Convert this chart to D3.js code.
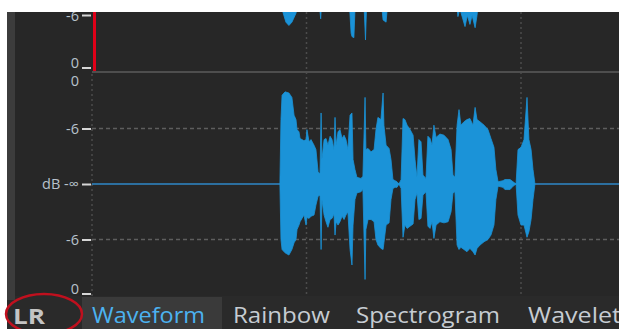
<!DOCTYPE html>
<html>
<head>
<meta charset="utf-8">
<script src="https://cdn.jsdelivr.net/npm/d3@7"></script>
<style>
  html, body { margin: 0; padding: 0; background: #fff; }
  svg { display: block; }
</style>
</head>
<body>
<svg id="chart" width="619" height="329"></svg>
<script>
// ---- data (time in s, amplitude -1..1) ----
const waveT = [0.876, 0.881, 0.886, 0.900, 0.918, 0.932, 0.942, 0.951, 0.956, 0.965, 0.970, 0.979, 0.988, 0.998, 1.002, 1.012, 1.021, 1.035, 1.044, 1.054, 1.063, 1.068, 1.072, 1.082, 1.091, 1.100, 1.110, 1.119, 1.128, 1.133, 1.138, 1.147, 1.156, 1.166, 1.175, 1.184, 1.193, 1.203, 1.212, 1.217, 1.226, 1.235, 1.254, 1.263, 1.273, 1.277, 1.287, 1.301, 1.315, 1.324, 1.333, 1.347, 1.357, 1.361, 1.371, 1.385, 1.394, 1.403, 1.413, 1.422, 1.431, 1.441, 1.450, 1.459, 1.469, 1.483, 1.497, 1.506, 1.515, 1.524, 1.534, 1.543, 1.557, 1.566, 1.576, 1.585, 1.594, 1.604, 1.622, 1.641, 1.660, 1.674, 1.683, 1.692, 1.702, 1.711, 1.720, 1.734, 1.748, 1.762, 1.776, 1.786, 1.795, 1.809, 1.828, 1.846, 1.860, 1.874, 1.883, 1.893, 1.916, 1.925, 1.949, 1.963, 1.977, 1.986, 2.000, 2.014, 2.028, 2.037, 2.047, 2.056, 2.065];
const waveMax = [0, 0.58, 0.80, 0.83, 0.82, 0.78, 0.62, 0.58, 0.49, 0.47, 0.41, 0.40, 0.39, 0.40, 0.49, 0.38, 0.40, 0.35, 0.31, 0.11, 0.09, 0.64, 0.22, 0.40, 0.41, 0.35, 0.43, 0.40, 0.31, 0.60, 0.35, 0.47, 0.49, 0.41, 0.44, 0.40, 0.31, 0.62, 0.64, 0.22, 0.13, 0.06, 0.05, 0.07, 0.78, 0.31, 0.32, 0.29, 0.31, 0.49, 0.60, 0.58, 0.82, 0.53, 0.35, 0.32, 0.22, 0.04, 0.03, 0.02, 0, 0.04, 0.59, 0.58, 0.53, 0.49, 0.44, 0.22, 0.06, 0.40, 0.38, 0.08, 0.05, 0.43, 0.41, 0.35, 0.53, 0.42, 0.45, 0.44, 0.40, 0.31, 0.08, 0.06, 0.53, 0.67, 0.53, 0.56, 0.58, 0.59, 0.53, 0.69, 0.58, 0.56, 0.53, 0.49, 0.41, 0.33, 0.13, 0.02, 0.03, 0.04, 0.04, 0.02, 0, 0.31, 0.33, 0.40, 0.78, 0.40, 0.31, 0.13, 0];
const waveMin = [0, -0.50, -0.59, -0.62, -0.64, -0.59, -0.53, -0.50, -0.41, -0.37, -0.34, -0.31, -0.28, -0.37, -0.30, -0.31, -0.29, -0.28, -0.19, -0.11, -0.10, -0.59, -0.14, -0.28, -0.34, -0.39, -0.32, -0.31, -0.27, -0.46, -0.34, -0.37, -0.34, -0.29, -0.32, -0.28, -0.25, -0.59, -0.73, -0.37, -0.14, -0.08, -0.07, -0.05, -0.86, -0.41, -0.32, -0.32, -0.34, -0.50, -0.55, -0.58, -0.59, -0.53, -0.37, -0.35, -0.14, -0.04, -0.03, -0.03, 0, -0.04, -0.48, -0.37, -0.40, -0.38, -0.36, -0.14, -0.08, -0.32, -0.31, -0.10, -0.07, -0.38, -0.40, -0.34, -0.49, -0.37, -0.34, -0.35, -0.34, -0.25, -0.08, -0.07, -0.55, -0.59, -0.57, -0.59, -0.61, -0.58, -0.61, -0.64, -0.58, -0.55, -0.52, -0.50, -0.46, -0.37, -0.14, -0.02, -0.03, -0.05, -0.05, -0.02, 0, -0.28, -0.37, -0.37, -0.48, -0.43, -0.32, -0.14, 0];

// upper channel: only its lower tips are visible
const upperT = [0.876, 0.881, 0.890, 0.904, 0.918, 0.932, 0.951, 0.960, 1.060, 1.066, 1.070, 1.200, 1.208, 1.212, 1.221, 1.226, 1.268, 1.275, 1.280, 1.350, 1.357, 1.371, 1.378, 1.700, 1.706, 1.715, 1.739, 1.750, 1.762, 1.772, 1.786, 1.795, 1.800, 2.065];
const upperMin = [0, -0.40, -0.47, -0.56, -0.59, -0.56, -0.48, -0.40, -0.40, -0.53, -0.40, -0.40, -0.66, -0.69, -0.70, -0.45, -0.40, -0.72, -0.42, -0.40, -0.54, -0.56, -0.40, -0.40, -0.51, -0.44, -0.60, -0.50, -0.58, -0.50, -0.61, -0.50, -0.40, 0];

const timeGrid = [1, 2];
const levelTicks = [0.5, 0, -0.5];
const levelLabels = { "0.5": "-6", "0": "dB -\u221e", "-0.5": "-6" };
const tabs = ["Waveform", "Rainbow", "Spectrogram", "Wavelet"];

// ---- layout ----
const W = 619, H = 329;
const plotX = 92;
const svg = d3.select("#chart");
const font = "'Open Sans', 'Noto Sans', sans-serif";

const x = d3.scaleLinear().domain([0, 1]).range([plotX, 306.5]);
const y = d3.scaleLinear().domain([-1, 1]).range([295, 73]);     // lower channel
const yUp = d3.scaleLinear().domain([-1, 1]).range([71, -151]);  // upper channel (mostly off screen)

const bg = "#272727", blue = "#1b93d8", grid = "#4c4c4c", label = "#b8c2cc";

svg.append("rect").attr("width", W).attr("height", H).attr("fill", bg);

// clip for each panel
const defs = svg.append("defs");
defs.append("clipPath").attr("id", "clipUp")
    .append("rect").attr("x", plotX).attr("y", 12).attr("width", W - plotX).attr("height", 59);
defs.append("clipPath").attr("id", "clipLo")
    .append("rect").attr("x", plotX).attr("y", 73).attr("width", W - plotX).attr("height", 222);

// vertical dotted time grid, both panels
svg.append("g").selectAll("line").data(timeGrid).join("line")
    .attr("x1", d => x(d)).attr("x2", d => x(d))
    .attr("y1", 12).attr("y2", 296)
    .attr("stroke", grid).attr("stroke-width", 1.5).attr("stroke-dasharray", "2,3");
svg.append("line")
    .attr("x1", plotX).attr("x2", plotX).attr("y1", 74).attr("y2", 296)
    .attr("stroke", grid).attr("stroke-width", 1.5).attr("stroke-dasharray", "2,3");

// -6 dB dashed lines in the lower panel
svg.append("g").selectAll("line").data([0.5, -0.5]).join("line")
    .attr("x1", plotX).attr("x2", W)
    .attr("y1", d => y(d)).attr("y2", d => y(d))
    .attr("stroke", "#5e5e5e").attr("stroke-width", 1.5).attr("stroke-dasharray", "4,3");

// panel separator
svg.append("line").attr("x1", plotX).attr("x2", W).attr("y1", 72).attr("y2", 72)
    .attr("stroke", "#4e4e4e").attr("stroke-width", 2);

// zero line
svg.append("line").attr("x1", plotX).attr("x2", W).attr("y1", y(0)).attr("y2", y(0))
    .attr("stroke", "#2f88c8").attr("stroke-width", 1.6);

// waveforms
const lower = waveT.map((t, i) => ({ t, hi: waveMax[i], lo: waveMin[i] }));
svg.append("path").datum(lower)
    .attr("clip-path", "url(#clipLo)")
    .attr("fill", blue).attr("stroke", blue).attr("stroke-width", 0.8)
    .attr("d", d3.area().x(d => x(d.t)).y0(d => y(d.lo)).y1(d => y(d.hi)));

const upper = upperT.map((t, i) => ({ t, lo: upperMin[i] }));
svg.append("path").datum(upper)
    .attr("clip-path", "url(#clipUp)")
    .attr("fill", blue).attr("stroke", blue).attr("stroke-width", 0.8)
    .attr("d", d3.area().x(d => x(d.t)).y0(yUp(0)).y1(d => yUp(d.lo)));

// level axis (lower panel)
const axis = svg.append("g").attr("transform", `translate(${plotX - 1},0)`)
    .call(d3.axisLeft(y).tickValues(levelTicks).tickSize(9).tickPadding(3)
        .tickFormat(d => levelLabels[String(d)]));
axis.select(".domain").remove();
axis.selectAll(".tick line").attr("stroke", "#d6d6d6").attr("stroke-width", 2);
axis.selectAll(".tick text").attr("fill", label)
    .style("font-family", font).style("font-size", "14.5px");

// the "0" labels at the panel edges
const zeroLabels = [
  { ty: y(1) + 13, tick: false },
  { ty: y(-1) - 1, tick: true },
  { ty: yUp(-1) - 3, tick: true },
  { ty: yUp(-0.5) + 5, tick: true, text: "-6" }
];
zeroLabels.forEach(z => {
  svg.append("text").attr("x", 79).attr("y", z.ty)
      .attr("text-anchor", "end").attr("fill", label)
      .style("font-family", font).style("font-size", "14.5px")
      .text(z.text || "0");
  if (z.tick) {
    const ly = z.text ? z.ty - 5 : z.ty;
    svg.append("line").attr("x1", 82).attr("x2", 91).attr("y1", ly).attr("y2", ly)
        .attr("stroke", "#d6d6d6").attr("stroke-width", 2);
  }
});

// red marker line of the upper panel
svg.append("rect").attr("x", 93).attr("y", 12).attr("width", 3).attr("height", 59)
    .attr("fill", "#e00018");

// tab bar
svg.append("rect").attr("x", 0).attr("y", 296).attr("width", W).attr("height", H - 296)
    .attr("fill", "#2a2a2a");
svg.append("rect").attr("x", 82).attr("y", 297).attr("width", 140).attr("height", H - 297)
    .attr("fill", "#3a3a3a");

const tabX = [92, 233, 356, 528];
const tabW = [113, 97, 144, 93];
svg.append("g").selectAll("text").data(tabs).join("text")
    .attr("x", (d, i) => tabX[i]).attr("y", 323)
    .attr("textLength", (d, i) => tabW[i]).attr("lengthAdjust", "spacingAndGlyphs")
    .attr("fill", (d, i) => i === 0 ? "#4cb2f0" : "#c6ccd2")
    .style("font-family", font).style("font-size", "22px")
    .text(d => d);

svg.append("text").attr("x", 13).attr("y", 324)
    .attr("textLength", 32).attr("lengthAdjust", "spacingAndGlyphs")
    .attr("fill", "#c4c4c4").attr("font-weight", "bold")
    .style("font-family", font).style("font-size", "22px")
    .text("LR");

// left frame strip and top white band
svg.append("rect").attr("x", 0).attr("y", 0).attr("width", 7).attr("height", H).attr("fill", "#ffffff");
svg.append("rect").attr("x", 7).attr("y", 0).attr("width", 8).attr("height", 300).attr("fill", "#3c3c3c");
svg.append("rect").attr("x", 0).attr("y", 0).attr("width", W).attr("height", 12).attr("fill", "#ffffff");

// red ellipse around LR
svg.append("ellipse").attr("cx", 44).attr("cy", 314).attr("rx", 38).attr("ry", 20)
    .attr("fill", "none").attr("stroke", "#c0101e").attr("stroke-width", 2.5);
</script>
</body>
</html>
